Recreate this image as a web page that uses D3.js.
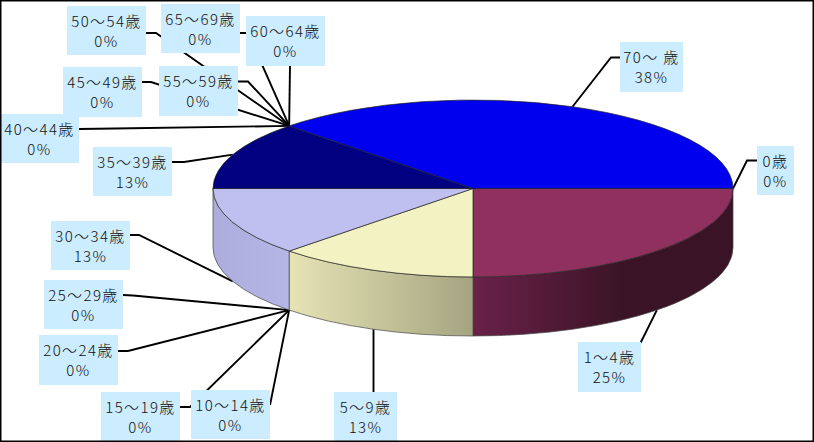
<!DOCTYPE html>
<html>
<head>
<meta charset="utf-8">
<script src="https://cdn.jsdelivr.net/npm/d3@7"></script>
<style>
  html, body { margin: 0; padding: 0; background: #fff; }
  svg { display: block; }
  text { font-family: "Noto Sans CJK JP", sans-serif; font-size: 15px; font-weight: 300; letter-spacing: 1.4px; fill: #111; }
</style>
</head>
<body>
<div id="chart"></div>
<script>
// Data
const categories = ["0歳", "1～4歳", "5～9歳", "10～14歳", "15～19歳", "20～24歳", "25～29歳", "30～34歳",
  "35～39歳", "40～44歳", "45～49歳", "50～54歳", "55～59歳", "60～64歳", "65～69歳", "70～ 歳"];
const counts = [0, 2, 1, 0, 0, 0, 0, 1, 1, 0, 0, 0, 0, 0, 0, 3];

const width = 814, height = 442;
const cx = 473, cy = 188.5, rx = 260, ry = 88.5, depth = 59;

// Label box placement, same order as categories: x, y, w, h
const labelBoxes = [
  [757, 146, 37, 49], [578, 342, 63, 50], [334, 392, 63, 50], [191, 390, 79, 49],
  [101, 392, 79, 50], [39, 335, 79, 50], [44, 280, 79, 49], [51, 221, 79, 49],
  [93, 147, 79, 49], [0, 114, 79, 49], [63, 67, 79, 50], [67, 6, 79, 49],
  [159, 66, 79, 50], [246, 16, 79, 50], [161, 4, 79, 49], [620, 42, 63, 50]
];
// Where each leader leaves its box and bends towards the slice
const leaderBends = [
  [[757, 160.5], [747, 160.5]], [[620, 367], [641, 342]], [[373.5, 392]], [[270, 405]],
  [[180, 407], [190, 407]], [[118, 351], [128, 351]], [[123, 295], [133, 295.5]], [[130, 235], [139, 235]],
  [[172, 162], [184, 162]], [[79, 129], [115, 128.5]], [[142, 82], [151, 82]], [[146, 33], [156, 33]],
  [[238, 81.5], [248, 81.5]], [[290, 66]], [[240, 33], [248, 33]], [[620, 57.5], [611, 57.5]]
];

const sliceColors = ["#9999ff", "#90305e", "#f2f2c2", "#ccffff", "#660066", "#ff8080", "#0066cc", "#c0c0f0",
  "#000080", "#ff00ff", "#ffff00", "#00ffff", "#800080", "#800000", "#008080", "#0000ee"];
// Side wall gradients: left colour, right colour, and the x range they span
const wallShades = {
  1: ["#6a2149", "#3a1426", cx, cx + 150],
  2: ["#e6e4b4", "#a5a481", cx - 184, cx],
  7: ["#adaddd", "#b6b6e6", cx - rx, cx - 184]
};

const svg = d3.select("#chart").append("svg")
  .attr("width", width)
  .attr("height", height);

// First slice starts at 3 o'clock and runs clockwise
const pie = d3.pie().sort(null).startAngle(Math.PI / 2).endAngle(Math.PI * 2.5);
const slices = pie(counts);
const midAngle = d => (d.startAngle + d.endAngle) / 2;

const px = a => cx + rx * Math.sin(a);
const py = a => cy - ry * Math.cos(a);

// Leaders go under the pie and the boxes
const line = d3.line();
svg.append("g").selectAll("path")
  .data(slices)
  .enter()
  .append("path")
  .attr("d", (d, i) => {
    const a = midAngle(d);
    const front = Math.cos(a) < -1e-6;
    return line([...leaderBends[i], [px(a), py(a) + (front ? depth : 0)]]);
  })
  .attr("fill", "none")
  .attr("stroke", "#000")
  .attr("stroke-width", 1.9);

// Side walls, only the front half of the pie shows
const defs = svg.append("defs");
Object.keys(wallShades).forEach(k => {
  const s = wallShades[k];
  const g = defs.append("linearGradient")
    .attr("id", "wall" + k)
    .attr("gradientUnits", "userSpaceOnUse")
    .attr("x1", s[2]).attr("x2", s[3]).attr("y1", 0).attr("y2", 0);
  g.append("stop").attr("offset", 0).attr("stop-color", s[0]);
  g.append("stop").attr("offset", 1).attr("stop-color", s[1]);
});

function wallPath(d) {
  const a0 = Math.max(d.startAngle, Math.PI / 2);
  const a1 = Math.min(d.endAngle, Math.PI * 1.5);
  return `M${px(a0)},${py(a0)}A${rx},${ry} 0 0 1 ${px(a1)},${py(a1)}` +
    `L${px(a1)},${py(a1) + depth}A${rx},${ry} 0 0 0 ${px(a0)},${py(a0) + depth}Z`;
}

svg.append("g").selectAll("path")
  .data(slices.filter(d => d.value > 0 && wallShades[slices.indexOf(d)]))
  .enter()
  .append("path")
  .attr("d", wallPath)
  .attr("fill", d => `url(#wall${slices.indexOf(d)})`)
  .attr("stroke", "#444")
  .attr("stroke-width", 0.7);

// Top face: circular arcs squashed into an ellipse
const arc = d3.arc().innerRadius(0).outerRadius(rx);
svg.append("g")
  .attr("transform", `translate(${cx},${cy}) scale(1,${ry / rx})`)
  .selectAll("path")
  .data(slices.filter(d => d.value > 0))
  .enter()
  .append("path")
  .attr("d", arc)
  .attr("fill", d => sliceColors[slices.indexOf(d)])
  .attr("stroke", "#222")
  .attr("stroke-width", 0.7)
  .attr("vector-effect", "non-scaling-stroke");

// Label boxes
const pct = d3.format(".0%");
const total = d3.sum(counts);
const labels = svg.append("g").selectAll("g")
  .data(categories)
  .enter()
  .append("g")
  .attr("transform", (d, i) => `translate(${labelBoxes[i][0]},${labelBoxes[i][1]})`);

labels.append("rect")
  .attr("width", (d, i) => labelBoxes[i][2])
  .attr("height", (d, i) => labelBoxes[i][3])
  .attr("fill", "#ccecff");

labels.append("text")
  .attr("x", (d, i) => labelBoxes[i][2] / 2)
  .attr("y", 20.5)
  .attr("text-anchor", "middle")
  .text(d => d);

labels.append("text")
  .attr("x", (d, i) => labelBoxes[i][2] / 2)
  .attr("y", 41)
  .attr("text-anchor", "middle")
  .text((d, i) => pct(counts[i] / total));

// Frame edge stays on top of boxes touching it
svg.append("rect")
  .attr("x", 0.75).attr("y", 0.75)
  .attr("width", width - 1.5).attr("height", height - 1.5)
  .attr("fill", "none")
  .attr("stroke", "#000")
  .attr("stroke-width", 1.5);
</script>
</body>
</html>
